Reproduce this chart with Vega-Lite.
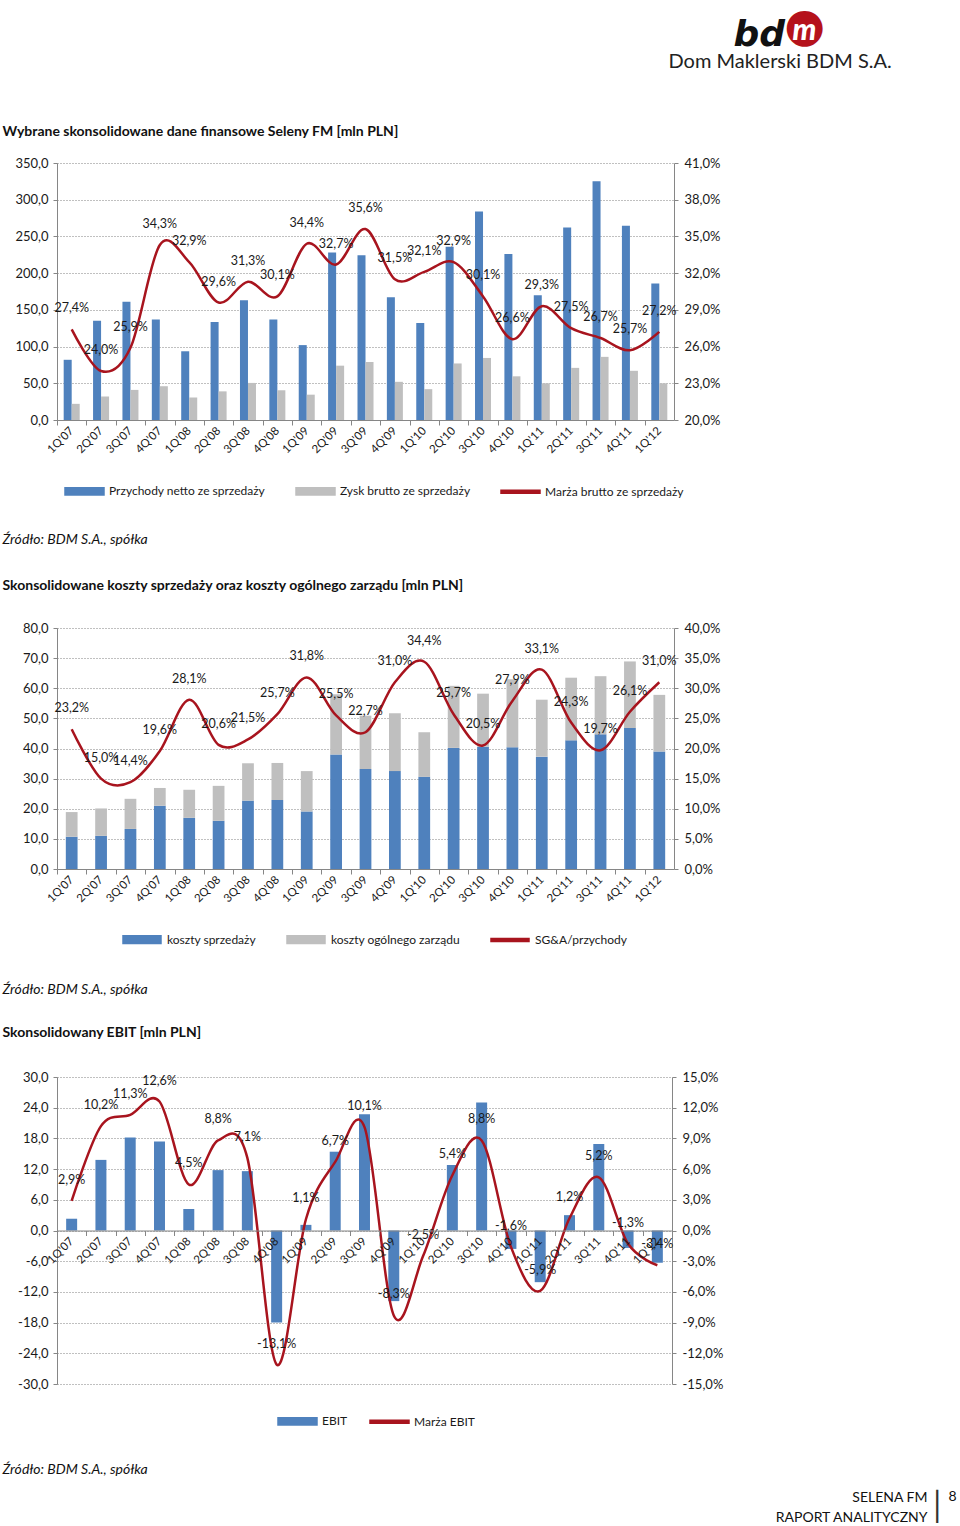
{
  "$schema": "https://vega.github.io/schema/vega-lite/v6.json",
  "padding": {"left": 2, "top": 2, "right": 0, "bottom": 0},
  "background": "white",
  "spacing": 208,
  "bounds": "flush",
  "resolve": {"scale": {"color": "independent"}},
  "config": {
    "view": {"stroke": null},
    "font": "Lato",
    "locale": {"number": {"decimal": ",", "thousands": " ", "grouping": [3], "currency": ["", " zł"], "minus": "-"}},
    "axis": {"domainColor": "#868686", "tickColor": "#868686", "labelColor": "#1a1a1a", "labelFont": "Lato", "labelFontSize": 13, "gridColor": "#808080", "gridDash": [1, 2], "gridWidth": 1, "tickSize": 4, "labelPadding": 5, "titleFont": "Lato", "titleColor": "#111111", "titleLimit": 1000},
    "legend": {"labelFont": "Lato", "labelFontSize": 12, "labelColor": "#1a1a1a", "labelLimit": 400}
  },
  "datasets": {
    "c1bars": [
      {"q": "1Q'07", "series": "Przychody netto ze sprzedaży", "value": 82}, {"q": "1Q'07", "series": "Zysk brutto ze sprzedaży", "value": 22},
      {"q": "2Q'07", "series": "Przychody netto ze sprzedaży", "value": 135}, {"q": "2Q'07", "series": "Zysk brutto ze sprzedaży", "value": 32},
      {"q": "3Q'07", "series": "Przychody netto ze sprzedaży", "value": 161}, {"q": "3Q'07", "series": "Zysk brutto ze sprzedaży", "value": 41},
      {"q": "4Q'07", "series": "Przychody netto ze sprzedaży", "value": 137}, {"q": "4Q'07", "series": "Zysk brutto ze sprzedaży", "value": 46},
      {"q": "1Q'08", "series": "Przychody netto ze sprzedaży", "value": 93.6}, {"q": "1Q'08", "series": "Zysk brutto ze sprzedaży", "value": 30.5},
      {"q": "2Q'08", "series": "Przychody netto ze sprzedaży", "value": 133.6}, {"q": "2Q'08", "series": "Zysk brutto ze sprzedaży", "value": 39},
      {"q": "3Q'08", "series": "Przychody netto ze sprzedaży", "value": 163}, {"q": "3Q'08", "series": "Zysk brutto ze sprzedaży", "value": 50.5},
      {"q": "4Q'08", "series": "Przychody netto ze sprzedaży", "value": 137}, {"q": "4Q'08", "series": "Zysk brutto ze sprzedaży", "value": 40.5},
      {"q": "1Q'09", "series": "Przychody netto ze sprzedaży", "value": 102}, {"q": "1Q'09", "series": "Zysk brutto ze sprzedaży", "value": 34.5},
      {"q": "2Q'09", "series": "Przychody netto ze sprzedaży", "value": 228}, {"q": "2Q'09", "series": "Zysk brutto ze sprzedaży", "value": 74},
      {"q": "3Q'09", "series": "Przychody netto ze sprzedaży", "value": 224.5}, {"q": "3Q'09", "series": "Zysk brutto ze sprzedaży", "value": 79},
      {"q": "4Q'09", "series": "Przychody netto ze sprzedaży", "value": 167}, {"q": "4Q'09", "series": "Zysk brutto ze sprzedaży", "value": 52},
      {"q": "1Q'10", "series": "Przychody netto ze sprzedaży", "value": 132}, {"q": "1Q'10", "series": "Zysk brutto ze sprzedaży", "value": 42},
      {"q": "2Q'10", "series": "Przychody netto ze sprzedaży", "value": 236}, {"q": "2Q'10", "series": "Zysk brutto ze sprzedaży", "value": 77},
      {"q": "3Q'10", "series": "Przychody netto ze sprzedaży", "value": 284}, {"q": "3Q'10", "series": "Zysk brutto ze sprzedaży", "value": 84.5},
      {"q": "4Q'10", "series": "Przychody netto ze sprzedaży", "value": 226}, {"q": "4Q'10", "series": "Zysk brutto ze sprzedaży", "value": 59.5},
      {"q": "1Q'11", "series": "Przychody netto ze sprzedaży", "value": 170}, {"q": "1Q'11", "series": "Zysk brutto ze sprzedaży", "value": 50},
      {"q": "2Q'11", "series": "Przychody netto ze sprzedaży", "value": 262}, {"q": "2Q'11", "series": "Zysk brutto ze sprzedaży", "value": 71},
      {"q": "3Q'11", "series": "Przychody netto ze sprzedaży", "value": 325}, {"q": "3Q'11", "series": "Zysk brutto ze sprzedaży", "value": 86},
      {"q": "4Q'11", "series": "Przychody netto ze sprzedaży", "value": 264.5}, {"q": "4Q'11", "series": "Zysk brutto ze sprzedaży", "value": 67},
      {"q": "1Q'12", "series": "Przychody netto ze sprzedaży", "value": 186}, {"q": "1Q'12", "series": "Zysk brutto ze sprzedaży", "value": 50}
    ],
    "c1line": [
      {"q": "1Q'07", "m": 0.274}, {"q": "2Q'07", "m": 0.240}, {"q": "3Q'07", "m": 0.259}, {"q": "4Q'07", "m": 0.343},
      {"q": "1Q'08", "m": 0.329}, {"q": "2Q'08", "m": 0.296}, {"q": "3Q'08", "m": 0.313}, {"q": "4Q'08", "m": 0.301},
      {"q": "1Q'09", "m": 0.344}, {"q": "2Q'09", "m": 0.327}, {"q": "3Q'09", "m": 0.356}, {"q": "4Q'09", "m": 0.315},
      {"q": "1Q'10", "m": 0.321}, {"q": "2Q'10", "m": 0.329}, {"q": "3Q'10", "m": 0.301}, {"q": "4Q'10", "m": 0.266},
      {"q": "1Q'11", "m": 0.293}, {"q": "2Q'11", "m": 0.275}, {"q": "3Q'11", "m": 0.267}, {"q": "4Q'11", "m": 0.257},
      {"q": "1Q'12", "m": 0.272}
    ],
    "c2bars": [
      {"q": "1Q'07", "series": "koszty sprzedaży", "value": 10.7}, {"q": "1Q'07", "series": "koszty ogólnego zarządu", "value": 8.2},
      {"q": "2Q'07", "series": "koszty sprzedaży", "value": 11.0}, {"q": "2Q'07", "series": "koszty ogólnego zarządu", "value": 9.1},
      {"q": "3Q'07", "series": "koszty sprzedaży", "value": 13.3}, {"q": "3Q'07", "series": "koszty ogólnego zarządu", "value": 10.0},
      {"q": "4Q'07", "series": "koszty sprzedaży", "value": 21.0}, {"q": "4Q'07", "series": "koszty ogólnego zarządu", "value": 5.9},
      {"q": "1Q'08", "series": "koszty sprzedaży", "value": 17.0}, {"q": "1Q'08", "series": "koszty ogólnego zarządu", "value": 9.3},
      {"q": "2Q'08", "series": "koszty sprzedaży", "value": 16.0}, {"q": "2Q'08", "series": "koszty ogólnego zarządu", "value": 11.6},
      {"q": "3Q'08", "series": "koszty sprzedaży", "value": 22.7}, {"q": "3Q'08", "series": "koszty ogólnego zarządu", "value": 12.4},
      {"q": "4Q'08", "series": "koszty sprzedaży", "value": 22.9}, {"q": "4Q'08", "series": "koszty ogólnego zarządu", "value": 12.3},
      {"q": "1Q'09", "series": "koszty sprzedaży", "value": 19.1}, {"q": "1Q'09", "series": "koszty ogólnego zarządu", "value": 13.4},
      {"q": "2Q'09", "series": "koszty sprzedaży", "value": 38.0}, {"q": "2Q'09", "series": "koszty ogólnego zarządu", "value": 20.0},
      {"q": "3Q'09", "series": "koszty sprzedaży", "value": 33.2}, {"q": "3Q'09", "series": "koszty ogólnego zarządu", "value": 17.7},
      {"q": "4Q'09", "series": "koszty sprzedaży", "value": 32.5}, {"q": "4Q'09", "series": "koszty ogólnego zarządu", "value": 19.2},
      {"q": "1Q'10", "series": "koszty sprzedaży", "value": 30.6}, {"q": "1Q'10", "series": "koszty ogólnego zarządu", "value": 14.8},
      {"q": "2Q'10", "series": "koszty sprzedaży", "value": 40.2}, {"q": "2Q'10", "series": "koszty ogólnego zarządu", "value": 20.6},
      {"q": "3Q'10", "series": "koszty sprzedaży", "value": 40.6}, {"q": "3Q'10", "series": "koszty ogólnego zarządu", "value": 17.6},
      {"q": "4Q'10", "series": "koszty sprzedaży", "value": 40.4}, {"q": "4Q'10", "series": "koszty ogólnego zarządu", "value": 22.6},
      {"q": "1Q'11", "series": "koszty sprzedaży", "value": 37.3}, {"q": "1Q'11", "series": "koszty ogólnego zarządu", "value": 18.9},
      {"q": "2Q'11", "series": "koszty sprzedaży", "value": 42.7}, {"q": "2Q'11", "series": "koszty ogólnego zarządu", "value": 20.8},
      {"q": "3Q'11", "series": "koszty sprzedaży", "value": 44.7}, {"q": "3Q'11", "series": "koszty ogólnego zarządu", "value": 19.3},
      {"q": "4Q'11", "series": "koszty sprzedaży", "value": 46.8}, {"q": "4Q'11", "series": "koszty ogólnego zarządu", "value": 22.1},
      {"q": "1Q'12", "series": "koszty sprzedaży", "value": 39.0}, {"q": "1Q'12", "series": "koszty ogólnego zarządu", "value": 18.8}
    ],
    "c2line": [
      {"q": "1Q'07", "m": 0.232}, {"q": "2Q'07", "m": 0.150}, {"q": "3Q'07", "m": 0.144}, {"q": "4Q'07", "m": 0.196},
      {"q": "1Q'08", "m": 0.281}, {"q": "2Q'08", "m": 0.206}, {"q": "3Q'08", "m": 0.215}, {"q": "4Q'08", "m": 0.257},
      {"q": "1Q'09", "m": 0.318}, {"q": "2Q'09", "m": 0.255}, {"q": "3Q'09", "m": 0.227}, {"q": "4Q'09", "m": 0.310},
      {"q": "1Q'10", "m": 0.344}, {"q": "2Q'10", "m": 0.257}, {"q": "3Q'10", "m": 0.205}, {"q": "4Q'10", "m": 0.279},
      {"q": "1Q'11", "m": 0.331}, {"q": "2Q'11", "m": 0.243}, {"q": "3Q'11", "m": 0.197}, {"q": "4Q'11", "m": 0.261},
      {"q": "1Q'12", "m": 0.310}
    ],
    "c3bars": [
      {"q": "1Q'07", "v": 2.3}, {"q": "2Q'07", "v": 13.8}, {"q": "3Q'07", "v": 18.2}, {"q": "4Q'07", "v": 17.4},
      {"q": "1Q'08", "v": 4.2}, {"q": "2Q'08", "v": 11.8}, {"q": "3Q'08", "v": 11.6}, {"q": "4Q'08", "v": -18.0},
      {"q": "1Q'09", "v": 1.1}, {"q": "2Q'09", "v": 15.4}, {"q": "3Q'09", "v": 22.7}, {"q": "4Q'09", "v": -13.8},
      {"q": "1Q'10", "v": null}, {"q": "2Q'10", "v": 12.8}, {"q": "3Q'10", "v": 25.0}, {"q": "4Q'10", "v": -3.6},
      {"q": "1Q'11", "v": -10.1}, {"q": "2Q'11", "v": 3.0}, {"q": "3Q'11", "v": 16.9}, {"q": "4Q'11", "v": -3.4},
      {"q": "1Q'12", "v": -6.3}
    ],
    "c3line": [
      {"q": "1Q'07", "m": 0.029}, {"q": "2Q'07", "m": 0.102}, {"q": "3Q'07", "m": 0.113}, {"q": "4Q'07", "m": 0.126},
      {"q": "1Q'08", "m": 0.045}, {"q": "2Q'08", "m": 0.088}, {"q": "3Q'08", "m": 0.071}, {"q": "4Q'08", "m": -0.131},
      {"q": "1Q'09", "m": 0.011}, {"q": "2Q'09", "m": 0.067}, {"q": "3Q'09", "m": 0.101}, {"q": "4Q'09", "m": -0.083},
      {"q": "1Q'10", "m": -0.025}, {"q": "2Q'10", "m": 0.054}, {"q": "3Q'10", "m": 0.088}, {"q": "4Q'10", "m": -0.016},
      {"q": "1Q'11", "m": -0.059}, {"q": "2Q'11", "m": 0.012}, {"q": "3Q'11", "m": 0.052}, {"q": "4Q'11", "m": -0.013},
      {"q": "1Q'12", "m": -0.034}
    ]
  },
  "vconcat": [
    {
      "width": 617,
      "height": 257,
      "resolve": {"scale": {"y": "independent"}, "axis": {"x": "independent", "y": "independent"}},
      "layer": [
        {
          "data": {"name": "c1bars"},
          "mark": {"type": "bar"},
          "encoding": {
            "x": {"field": "q", "type": "nominal",
              "scale": {"domain": ["1Q'07","2Q'07","3Q'07","4Q'07","1Q'08","2Q'08","3Q'08","4Q'08","1Q'09","2Q'09","3Q'09","4Q'09","1Q'10","2Q'10","3Q'10","4Q'10","1Q'11","2Q'11","3Q'11","4Q'11","1Q'12"], "paddingInner": 0.455, "paddingOuter": 0.2275},
              "axis": {"orient": "bottom", "labelAngle": -45, "labelAlign": "right", "labelBaseline": "middle", "labelPadding": 4, "labelFontSize": 11.5, "labelOverlap": false, "tickSize": 5, "bandPosition": 0, "tickOffset": -6.68, "labelOffset": 6.68, "grid": false,
                "title": "Źródło: BDM S.A., spółka", "titleX": -55, "titleY": 119, "titleAlign": "left", "titleBaseline": "middle", "titleAngle": 0, "titleFontSize": 14, "titleFontStyle": "italic", "titleFontWeight": "normal"}},
            "xOffset": {"field": "series", "type": "nominal", "scale": {"paddingInner": 0, "paddingOuter": 0}},
            "y": {"field": "value", "type": "quantitative", "stack": null, "scale": {"domain": [0, 350], "nice": false},
              "axis": {"orient": "left", "values": [0, 50, 100, 150, 200, 250, 300, 350], "format": ".1f", "grid": true,
                "title": "Dom Maklerski BDM S.A.", "titleX": 611, "titleY": -102, "titleAlign": "left", "titleBaseline": "middle", "titleAngle": 0, "titleFontSize": 20, "titleFontWeight": "normal", "titleColor": "#222222"}},
            "color": {"field": "series", "type": "nominal",
              "scale": {"domain": ["Przychody netto ze sprzedaży", "Zysk brutto ze sprzedaży", "Marża brutto ze sprzedaży"], "range": ["#4F81BD", "#BFBFBF", "#A8141E"]},
              "legend": {"orient": "none", "legendX": 7, "legendY": 307.5, "direction": "horizontal", "title": null, "symbolSize": 1521,
                "symbolType": {"expr": "datum.value === 'Marża brutto ze sprzedaży' ? 'M-1,-0.075H1V0.075H-1Z' : 'M-1,-0.19H1V0.19H-1Z'"},
                "labelOffset": 4, "columnPadding": 27}}
          }
        },
        {
          "data": {"name": "c1line"},
          "mark": {"type": "line", "interpolate": "cardinal", "strokeWidth": 2.5},
          "encoding": {
            "x": {"field": "q", "type": "nominal", "axis": null},
            "y": {"field": "m", "type": "quantitative", "scale": {"domain": [0.2, 0.41], "nice": false, "zero": false},
              "axis": {"orient": "right", "values": [0.2, 0.23, 0.26, 0.29, 0.32, 0.35, 0.38, 0.41], "format": ".1%", "grid": false, "labelPadding": 6,
                "title": "bd", "titleX": 59, "titleY": -118, "titleAlign": "left", "titleBaseline": "alphabetic", "titleAngle": 0, "titleFont": "DejaVu Sans", "titleFontSize": 36, "titleFontWeight": "bold", "titleFontStyle": "italic", "titleColor": "#111111"}},
            "color": {"datum": "Marża brutto ze sprzedaży"}
          }
        },
        {
          "data": {"name": "c1line"},
          "mark": {"type": "text", "dy": -21, "fontSize": 12.5, "color": "#1a1a1a"},
          "encoding": {
            "x": {"field": "q", "type": "nominal",
              "axis": {"orient": "top", "labels": false, "ticks": false, "domain": false, "grid": false,
                "title": "Wybrane skonsolidowane dane finansowe Seleny FM [mln PLN]", "titleX": -55, "titleY": -32, "titleAlign": "left", "titleBaseline": "middle", "titleAngle": 0, "titleFontSize": 14, "titleFontWeight": "bold"}},
            "y": {"field": "m", "type": "quantitative", "scale": {"domain": [0.2, 0.41], "nice": false, "zero": false},
              "axis": {"orient": "right", "labels": false, "ticks": false, "domain": false, "grid": false,
                "title": "●", "titleX": 130, "titleY": -137, "titleAlign": "center", "titleBaseline": "middle", "titleAngle": 0, "titleFont": "DejaVu Sans", "titleFontSize": 47, "titleFontWeight": "normal", "titleColor": "#B5121B"}},
            "text": {"field": "m", "type": "quantitative", "format": ".1%"}
          }
        }
      ]
    },
    {
      "width": 617,
      "height": 241,
      "resolve": {"scale": {"y": "independent"}, "axis": {"x": "independent", "y": "independent"}},
      "layer": [
        {
          "data": {"name": "c2bars"},
          "mark": {"type": "bar"},
          "encoding": {
            "x": {"field": "q", "type": "nominal",
              "scale": {"domain": ["1Q'07","2Q'07","3Q'07","4Q'07","1Q'08","2Q'08","3Q'08","4Q'08","1Q'09","2Q'09","3Q'09","4Q'09","1Q'10","2Q'10","3Q'10","4Q'10","1Q'11","2Q'11","3Q'11","4Q'11","1Q'12"], "paddingInner": 0.6, "paddingOuter": 0.3},
              "axis": {"orient": "bottom", "labelAngle": -45, "labelAlign": "right", "labelBaseline": "middle", "labelPadding": 4, "labelFontSize": 11.5, "labelOverlap": false, "tickSize": 5, "bandPosition": 0, "tickOffset": -8.81, "labelOffset": 8.81, "grid": false,
                "title": "Źródło: BDM S.A., spółka", "titleX": -55, "titleY": 120, "titleAlign": "left", "titleBaseline": "middle", "titleAngle": 0, "titleFontSize": 14, "titleFontStyle": "italic", "titleFontWeight": "normal"}},
            "y": {"field": "value", "type": "quantitative", "stack": "zero", "scale": {"domain": [0, 80], "nice": false},
              "axis": {"orient": "left", "values": [0, 10, 20, 30, 40, 50, 60, 70, 80], "format": ".1f", "grid": true,
                "title": "m", "titleX": 747, "titleY": -589, "titleAlign": "center", "titleBaseline": "alphabetic", "titleAngle": 0, "titleFontSize": 30, "titleFontWeight": 900, "titleFontStyle": "italic", "titleColor": "#ffffff"}},
            "order": {"field": "series", "sort": "descending"},
            "color": {"field": "series", "type": "nominal",
              "scale": {"domain": ["koszty sprzedaży", "koszty ogólnego zarządu", "SG&A/przychody"], "range": ["#4F81BD", "#BFBFBF", "#A8141E"]},
              "legend": {"orient": "none", "legendX": 65, "legendY": 291.5, "direction": "horizontal", "title": null, "symbolSize": 1444,
                "symbolType": {"expr": "datum.value === 'SG&A/przychody' ? 'M-1,-0.08H1V0.08H-1Z' : 'M-1,-0.2H1V0.2H-1Z'"},
                "labelOffset": 5, "columnPadding": 28}}
          }
        },
        {
          "data": {"name": "c2line"},
          "mark": {"type": "line", "interpolate": "cardinal", "strokeWidth": 2.5},
          "encoding": {
            "x": {"field": "q", "type": "nominal", "axis": null},
            "y": {"field": "m", "type": "quantitative", "scale": {"domain": [0, 0.4], "nice": false, "zero": false},
              "axis": {"orient": "right", "values": [0, 0.05, 0.1, 0.15, 0.2, 0.25, 0.3, 0.35, 0.4], "format": ".1%", "grid": false, "labelPadding": 6, "title": null}},
            "color": {"datum": "SG&A/przychody"}
          }
        },
        {
          "data": {"name": "c2line"},
          "mark": {"type": "text", "dy": -21, "fontSize": 12.5, "color": "#1a1a1a"},
          "encoding": {
            "x": {"field": "q", "type": "nominal",
              "axis": {"orient": "top", "labels": false, "ticks": false, "domain": false, "grid": false,
                "title": "Skonsolidowane koszty sprzedaży oraz koszty ogólnego zarządu [mln PLN]", "titleX": -55, "titleY": -43, "titleAlign": "left", "titleBaseline": "middle", "titleAngle": 0, "titleFontSize": 14, "titleFontWeight": "bold"}},
            "y": {"field": "m", "type": "quantitative", "scale": {"domain": [0, 0.4], "nice": false, "zero": false}, "axis": null},
            "text": {"field": "m", "type": "quantitative", "format": ".1%"}
          }
        }
      ]
    },
    {
      "width": 615,
      "height": 307,
      "resolve": {"scale": {"y": "independent"}, "axis": {"x": "independent", "y": "independent"}},
      "layer": [
        {
          "data": {"name": "c3bars"},
          "mark": {"type": "bar"},
          "encoding": {
            "x": {"field": "q", "type": "nominal",
              "scale": {"domain": ["1Q'07","2Q'07","3Q'07","4Q'07","1Q'08","2Q'08","3Q'08","4Q'08","1Q'09","2Q'09","3Q'09","4Q'09","1Q'10","2Q'10","3Q'10","4Q'10","1Q'11","2Q'11","3Q'11","4Q'11","1Q'12"], "paddingInner": 0.625, "paddingOuter": 0.3125},
              "axis": {"orient": "bottom", "offset": -153.5, "zindex": 1, "labelAngle": -45, "labelAlign": "right", "labelBaseline": "middle", "labelPadding": 4, "labelFontSize": 11.5, "labelOverlap": false, "tickSize": 5, "bandPosition": 0, "tickOffset": -9.15, "labelOffset": 9.15, "grid": false,
                "title": "Źródło: BDM S.A., spółka", "titleX": -55, "titleY": 238.5, "titleAlign": "left", "titleBaseline": "middle", "titleAngle": 0, "titleFontSize": 14, "titleFontStyle": "italic", "titleFontWeight": "normal"}},
            "y": {"field": "v", "type": "quantitative", "stack": null, "scale": {"domain": [-30, 30], "nice": false},
              "axis": {"orient": "left", "values": [-30, -24, -18, -12, -6, 0, 6, 12, 18, 24, 30], "format": ".1f", "grid": true,
                "title": ["SELENA FM", "RAPORT ANALITYCZNY"], "titleX": 870, "titleY": 424, "titleAlign": "right", "titleBaseline": "alphabetic", "titleLineHeight": 20, "titleAngle": 0, "titleFontSize": 14, "titleFontWeight": "normal", "titleColor": "#111111"}},
            "color": {"datum": "EBIT",
              "scale": {"domain": ["EBIT", "Marża EBIT"], "range": ["#4F81BD", "#A8141E"]},
              "legend": {"orient": "none", "legendX": 220, "legendY": 323.5, "direction": "horizontal", "title": null, "symbolSize": 1521,
                "symbolType": {"expr": "datum.value === 'Marża EBIT' ? 'M-1,-0.075H1V0.075H-1Z' : 'M-1,-0.19H1V0.19H-1Z'"},
                "labelOffset": 4, "columnPadding": 19}}
          }
        },
        {
          "data": {"name": "c3line"},
          "mark": {"type": "line", "interpolate": "cardinal", "strokeWidth": 2.5},
          "encoding": {
            "x": {"field": "q", "type": "nominal", "axis": null},
            "y": {"field": "m", "type": "quantitative", "scale": {"domain": [-0.15, 0.15], "nice": false, "zero": false},
              "axis": {"orient": "right", "values": [-0.15, -0.12, -0.09, -0.06, -0.03, 0, 0.03, 0.06, 0.09, 0.12, 0.15], "format": ".1%", "grid": false, "labelPadding": 6,
                "title": "8", "titleX": 280, "titleY": 419, "titleAlign": "center", "titleBaseline": "middle", "titleAngle": 0, "titleFontSize": 14, "titleFontWeight": "normal", "titleColor": "#111111"}},
            "color": {"datum": "Marża EBIT"}
          }
        },
        {
          "data": {"name": "c3line"},
          "mark": {"type": "text", "dy": -21, "fontSize": 12.5, "color": "#1a1a1a"},
          "encoding": {
            "x": {"field": "q", "type": "nominal",
              "axis": {"orient": "top", "labels": false, "ticks": false, "domain": false, "grid": false,
                "title": "Skonsolidowany EBIT [mln PLN]", "titleX": -55, "titleY": -45, "titleAlign": "left", "titleBaseline": "middle", "titleAngle": 0, "titleFontSize": 14, "titleFontWeight": "bold"}},
            "y": {"field": "m", "type": "quantitative", "scale": {"domain": [-0.15, 0.15], "nice": false, "zero": false},
              "axis": {"orient": "right", "labels": false, "ticks": false, "domain": false, "grid": false,
                "title": "│", "titleX": 265, "titleY": 430, "titleAlign": "center", "titleBaseline": "middle", "titleAngle": 0, "titleFont": "DejaVu Sans", "titleFontSize": 28, "titleFontWeight": "normal", "titleColor": "#333333"}},
            "text": {"field": "m", "type": "quantitative", "format": ".1%"}
          }
        }
      ]
    }
  ]
}
